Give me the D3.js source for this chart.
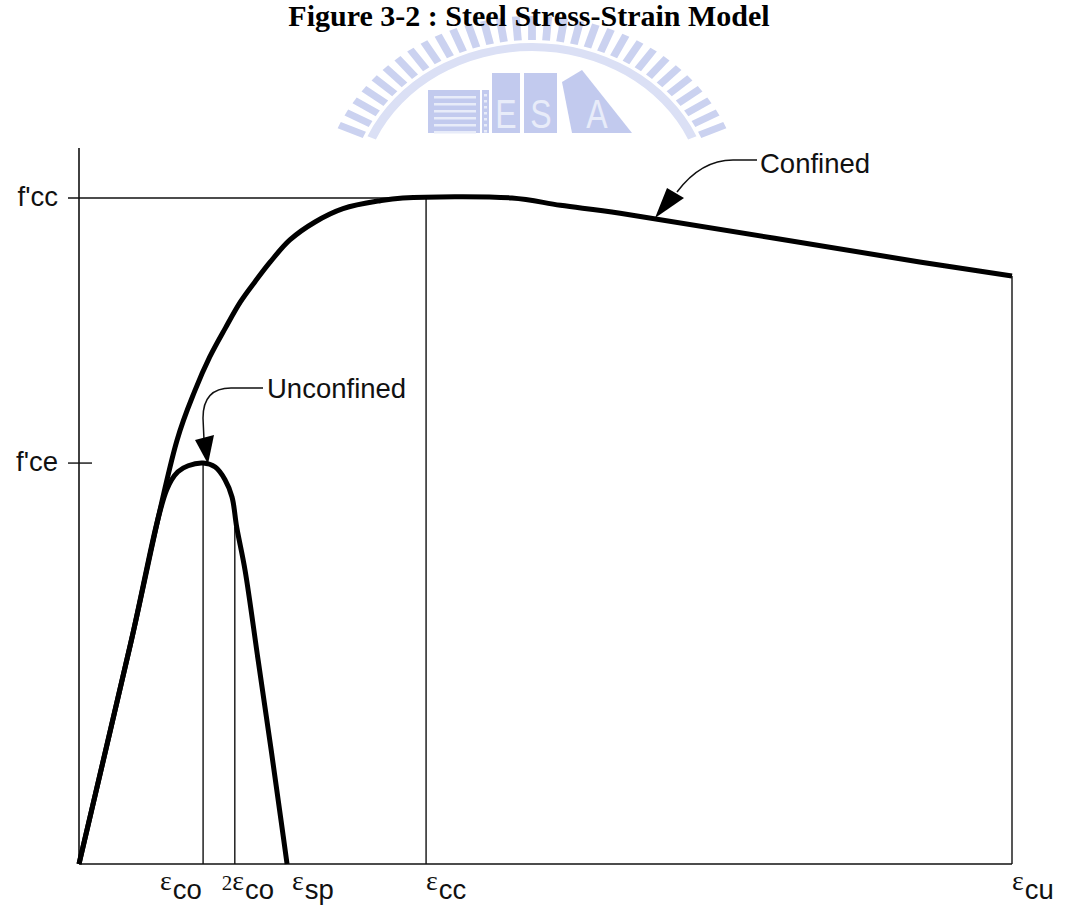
<!DOCTYPE html>
<html>
<head>
<meta charset="utf-8">
<script src="https://cdn.jsdelivr.net/npm/d3@7"></script>
<style>
  html, body { margin: 0; padding: 0; background: #ffffff; }
  svg { display: block; }
</style>
</head>
<body>
<svg id="chart" width="1069" height="909"></svg>
<script>
// Relative strain (ultimate strain = 100) and relative stress (f'cc = 100)
const confinedStrain = [0, 5.5, 10.5, 12.4, 14.0, 15.7, 17.3, 18.9, 20.5, 22.6, 25.3, 28.3, 32.3, 34.7, 46.4, 51.6, 58.0, 90.1, 100];
const confinedStress = [0, 32.9, 63.6, 71.0, 76.1, 80.5, 84.4, 87.5, 90.4, 93.7, 96.4, 98.4, 99.6, 100, 100, 98.9, 97.7, 90.4, 88.3];

const unconfinedStrain = [0, 5.5, 9.4, 10.6, 11.7, 13.3, 14.6, 15.65, 16.4, 16.9, 17.8, 19.2, 20.6, 21.65, 22.3];
const unconfinedStress = [0, 32.9, 56.2, 58.9, 59.8, 60.2, 59.6, 57.7, 55.1, 50.6, 44.1, 30.6, 17.1, 6.6, 0];

// Strain axis marks
const strainTickValues = [13.3, 16.7, 22.3, 37.2, 100];
const strainTickPrefix = ["", "2", "", "", ""];
const strainTickSub = ["co", "co", "sp", "cc", "cu"];
const strainGuideTop = [60.2, 50.6, 0, 100, 88.3];

// Stress axis marks
const stressTickLabels = ["f'cc", "f'ce"];
const stressTickValues = [100, 60.2];

const titleText = "Figure 3-2 : Steel Stress-Strain Model";

const svg = d3.select("#chart");
const ink = "#111111";
const sans = "'Liberation Sans', Arial, Helvetica, sans-serif";
const serif = "'Liberation Serif', 'Times New Roman', serif";

const x = d3.scaleLinear().domain([0, 100]).range([79, 1012]);
const y = d3.scaleLinear().domain([0, 100]).range([864, 198]);
const yTop = 107.5;

// ---- faint logo behind the title ----
const wm = svg.append("g").attr("class", "logo");
const wmColor = "#cbd2f0";
const ring = wm.append("g").attr("transform", "translate(532,200) scale(1.147,1)");
d3.range(-66, 66.1, 4.4).forEach(a => {
  ring.append("rect")
    .attr("x", -3.4).attr("y", -184).attr("width", 6.8).attr("height", 24)
    .attr("fill", wmColor)
    .attr("transform", `rotate(${a})`);
});
const arcGen = d3.arc();
ring.append("path")
  .attr("d", arcGen({innerRadius: 149, outerRadius: 157, startAngle: -66 * Math.PI / 180, endAngle: 66 * Math.PI / 180}))
  .attr("fill", "#dbe0f5");

const blocks = wm.append("g").attr("fill", "#c2caee");
blocks.append("rect").attr("x", 428).attr("y", 90).attr("width", 52).attr("height", 43);
blocks.append("rect").attr("x", 482).attr("y", 90).attr("width", 7).attr("height", 43);
blocks.append("rect").attr("x", 492).attr("y", 73).attr("width", 28).attr("height", 60);
blocks.append("rect").attr("x", 524).attr("y", 73).attr("width", 33).attr("height", 60);
blocks.append("polygon").attr("points", "562,82 582,70 632,133 572,133");
const stripes = wm.append("g").attr("fill", "#e8ecf9");
d3.range(96, 132, 7).forEach(sy => {
  stripes.append("rect").attr("x", 434).attr("y", sy).attr("width", 42).attr("height", 2.5);
});
d3.range(94, 132, 6).forEach(sy => {
  stripes.append("rect").attr("x", 484).attr("y", sy).attr("width", 3).attr("height", 2.5);
});
const wmText = wm.append("g").attr("fill", "#e8ecf9").attr("font-family", sans)
  .attr("font-size", 40).attr("text-anchor", "middle");
wmText.append("text").attr("x", 506).attr("y", 128).attr("transform", "translate(506,0) scale(0.8,1) translate(-506,0)").text("E");
wmText.append("text").attr("x", 541).attr("y", 128).attr("transform", "translate(541,0) scale(0.8,1) translate(-541,0)").text("S");
wmText.append("text").attr("x", 597).attr("y", 128).attr("transform", "translate(597,0) scale(0.8,1) translate(-597,0)").text("A");

// ---- title ----
svg.append("text")
  .attr("x", 529).attr("y", 26)
  .attr("text-anchor", "middle")
  .attr("font-family", serif).attr("font-weight", "bold").attr("font-size", 30)
  .attr("fill", "#000")
  .text(titleText);

// ---- axes ----
const axes = svg.append("g").attr("stroke", ink).attr("stroke-width", 1.6).attr("fill", "none");
axes.append("line").attr("x1", x(0)).attr("x2", x(0)).attr("y1", y(0)).attr("y2", y(yTop));
axes.append("line").attr("x1", x(0)).attr("x2", x(100)).attr("y1", y(0)).attr("y2", y(0));

// stress marks: f'cc runs across to the peak strain, f'ce is a short tick
stressTickValues.forEach((v, i) => {
  const xEnd = i === 0 ? x(strainTickValues[3]) : x(0) + 13;
  axes.append("line").attr("x1", x(0) - 11).attr("x2", xEnd).attr("y1", y(v)).attr("y2", y(v))
    .attr("stroke-width", 1.4);
});

// strain guide lines up to the curve
strainTickValues.forEach((v, i) => {
  if (strainGuideTop[i] <= 0) return;
  axes.append("line").attr("x1", x(v)).attr("x2", x(v)).attr("y1", y(0)).attr("y2", y(strainGuideTop[i]))
    .attr("stroke-width", 1.4);
});

// ---- stress-strain curves ----
const line = d3.line().x(d => x(d[0])).y(d => y(d[1])).curve(d3.curveCatmullRom.alpha(0.5));
const confined = confinedStrain.map((s, i) => [s, confinedStress[i]]);
const unconfined = unconfinedStrain.map((s, i) => [s, unconfinedStress[i]]);

svg.append("path").attr("d", line(unconfined))
  .attr("fill", "none").attr("stroke", "#000").attr("stroke-width", 5).attr("stroke-linejoin", "round");
svg.append("path").attr("d", line(confined))
  .attr("fill", "none").attr("stroke", "#000").attr("stroke-width", 5).attr("stroke-linejoin", "round");

// ---- curve call-outs ----
const notes = svg.append("g");
notes.append("path").attr("d", "M757,160 L733,160 C711,160 692,172 677,192")
  .attr("fill", "none").attr("stroke", ink).attr("stroke-width", 1.5);
notes.append("polygon").attr("points", "667,188 684,198 655,218").attr("fill", "#000");
notes.append("text").attr("x", 760).attr("y", 173)
  .attr("font-family", sans).attr("font-size", 27.5).attr("fill", ink).text("Confined");

notes.append("path").attr("d", "M263,388 L231,388 C212,388 203,399 203,418 L204,440")
  .attr("fill", "none").attr("stroke", ink).attr("stroke-width", 1.5);
notes.append("polygon").attr("points", "195,440 214,435 208,464").attr("fill", "#000");
notes.append("text").attr("x", 267).attr("y", 398)
  .attr("font-family", sans).attr("font-size", 27.5).attr("fill", ink).text("Unconfined");

// ---- axis labels ----
const labels = svg.append("g").attr("fill", ink);
stressTickValues.forEach((v, i) => {
  labels.append("text")
    .attr("x", 58).attr("y", y(v) + 8)
    .attr("text-anchor", "end")
    .attr("font-family", sans).attr("font-size", 27.5)
    .text(stressTickLabels[i]);
});

const labelShift = [-43, -13, 5, 0, 0];
strainTickValues.forEach((v, i) => {
  const t = labels.append("text").attr("x", x(v) + labelShift[i]).attr("y", 890);
  if (strainTickPrefix[i]) {
    t.append("tspan").attr("font-family", serif).attr("font-size", 21).text(strainTickPrefix[i]);
  }
  t.append("tspan").attr("font-family", serif).attr("font-size", 28).text("\u03B5");
  t.append("tspan").attr("font-family", sans).attr("font-size", 27.5)
    .attr("dx", 1).attr("dy", 9).text(strainTickSub[i]);
});
</script>
</body>
</html>
